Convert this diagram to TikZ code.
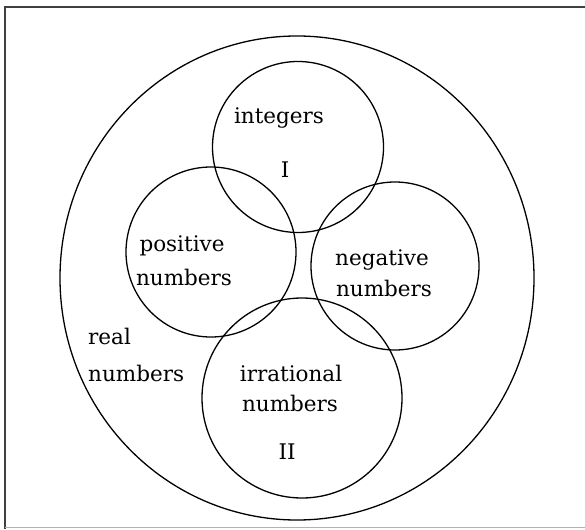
\documentclass[tikz,border=0pt]{standalone}
\usepackage{fontspec}
\setmainfont{DejaVu Serif}
\begin{document}
\begin{tikzpicture}[x=1pt,y=-1pt,
  ring/.style={draw=black,line width=1.3pt},
  lbl/.style={font=\fontsize{21.5}{26}\selectfont,inner sep=0pt,text=black},
  lbll/.style={lbl,anchor=west}]
\useasboundingbox (0,0) rectangle (585,529);
\fill[white] (0,0) rectangle (585,529);
% frame
\draw[draw=black!75,line width=2pt] (5,529) -- (5,7) -- (585,7);
\draw[draw=black!30,line width=1.5pt] (5,527.5) -- (585,527.5);
% outer set
\draw[ring] (297,278) ellipse [x radius=237,y radius=242];
% circles
\draw[ring] (298,147) circle [radius=85.5];
\draw[ring] (211,252) circle [radius=85];
\draw[ring] (395,266) circle [radius=84];
\draw[ring] (302,398) circle [radius=100];
% labels
\node[lbl] (int) at (279,118) {integers};
\node[lbl] (one) at (285,170) {I};
\node[lbl] (pos1) at (182,246) {positive};
\node[lbl] (pos2) at (184,277) {numbers};
\node[lbl] (neg1) at (382,260) {negative};
\node[lbl] (neg2) at (384,288) {numbers};
\node[lbll] (real1) at (88,336) {real};
\node[lbll] (real2) at (88,373) {numbers};
\node[lbl] (irr1) at (291,373) {irrational};
\node[lbl] (irr2) at (290,403) {numbers};
\node[lbl] (two) at (287,452) {II};
\end{tikzpicture}
\end{document}
